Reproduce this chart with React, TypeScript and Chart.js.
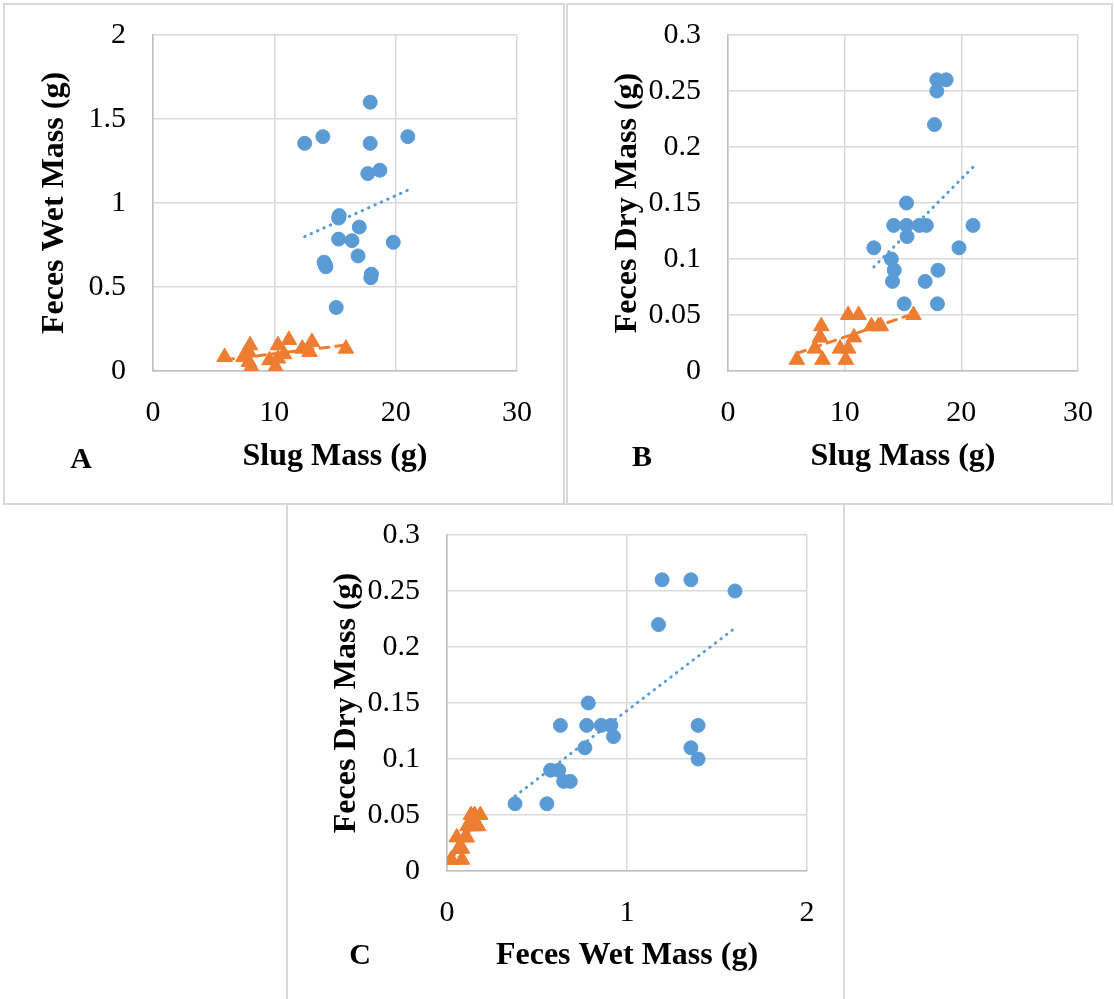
import React, { useEffect, useRef } from "react";
import { Chart, registerables } from "chart.js";

Chart.register(...registerables);

// ---- Data ----
// Blue circles (group 1): slug mass, feces wet mass, feces dry mass
const slugMassBlue = [17.9, 12.5, 14.0, 17.9, 21.0, 17.7, 18.7, 15.35, 15.3, 17.0, 15.3, 16.4, 19.8, 16.9, 14.1, 14.25, 18.0, 17.95, 15.1, 14.2];
const wetMassBlue = [1.6, 1.355, 1.395, 1.355, 1.395, 1.175, 1.195, 0.925, 0.91, 0.857, 0.785, 0.776, 0.766, 0.685, 0.648, 0.62, 0.576, 0.555, 0.378, 0.63];
const dryMassBlue = [0.25, 0.11, 0.10, 0.26, 0.13, 0.22, 0.26, 0.12, 0.13, 0.13, 0.15, 0.13, 0.11, 0.08, 0.08, 0.09, 0.09, 0.06, 0.06, 0.13];

// Orange triangles (group 2)
const slugMassOrange = [5.9, 7.45, 7.9, 8.0, 8.1, 7.9, 9.6, 10.1, 10.3, 10.8, 10.3, 11.2, 12.3, 12.9, 13.1, 15.9];
const wetMassOrange = [0.083, 0.083, 0.054, 0.153, 0.024, 0.11, 0.064, 0.024, 0.074, 0.1, 0.153, 0.185, 0.133, 0.113, 0.173, 0.133];
const dryMassOrange = [0.01, 0.02, 0.03, 0.04, 0.01, 0.03, 0.02, 0.01, 0.02, 0.03, 0.05, 0.05, 0.04, 0.04, 0.04, 0.05];

// Tick values
const slugTicks = [0, 10, 20, 30];
const wetTicksY = [0, 0.5, 1, 1.5, 2];
const dryTicks = [0, 0.05, 0.1, 0.15, 0.2, 0.25, 0.3];
const wetTicksX = [0, 1, 2];

// Labels
const panelLetters = ["A", "B", "C"];
const slugTitle = "Slug Mass (g)";
const wetTitle = "Feces Wet Mass (g)";
const dryTitle = "Feces Dry Mass (g)";

const BLUE = "#5b9bd5";
const ORANGE = "#ed7d31";
const GRID = "#d9d9d9";
const AXIS = "#bfbfbf";
const FONT = "'Liberation Serif', 'Times New Roman', serif";

function toPoints(xs: number[], ys: number[]) {
  return xs.map((x, i) => ({ x, y: ys[i] }));
}

// Least-squares trendline over the data's x-range (like Excel's linear trendline)
function trend(xs: number[], ys: number[]) {
  const n = xs.length;
  const mx = xs.reduce((a, b) => a + b, 0) / n;
  const my = ys.reduce((a, b) => a + b, 0) / n;
  let sxy = 0;
  let sxx = 0;
  for (let i = 0; i < n; i++) {
    sxy += (xs[i] - mx) * (ys[i] - my);
    sxx += (xs[i] - mx) * (xs[i] - mx);
  }
  const b = sxy / sxx;
  const a = my - b * mx;
  const x0 = Math.min(...xs);
  const x1 = Math.max(...xs);
  return [
    { x: x0, y: a + b * x0 },
    { x: x1, y: a + b * x1 },
  ];
}

type Spec = {
  letter: string;
  left: number;
  top: number;
  width: number;
  height: number;
  plot: { left: number; right: number; top: number; bottom: number };
  xTitle: string;
  yTitle: string;
  xTicks: number[];
  yTicks: number[];
  bx: number[];
  by: number[];
  ox: number[];
  oy: number[];
  yTitlePad: number;
  xTitlePad: number;
  letterPos: { x: number; y: number };
};

const specs: Spec[] = [
  {
    letter: panelLetters[0],
    left: 3, top: 3, width: 562, height: 502,
    plot: { left: 148, right: 512, top: 30, bottom: 366 },
    xTitle: slugTitle, yTitle: wetTitle,
    xTicks: slugTicks, yTicks: wetTicksY,
    bx: slugMassBlue, by: wetMassBlue, ox: slugMassOrange, oy: wetMassOrange,
    yTitlePad: 30.8, xTitlePad: 26.8,
    letterPos: { x: 81, y: 458 },
  },
  {
    letter: panelLetters[1],
    left: 566, top: 3, width: 547, height: 502,
    plot: { left: 160, right: 510, top: 30, bottom: 366 },
    xTitle: slugTitle, yTitle: dryTitle,
    xTicks: slugTicks, yTicks: dryTicks,
    bx: slugMassBlue, by: dryMassBlue, ox: slugMassOrange, oy: dryMassOrange,
    yTitlePad: 40.8, xTitlePad: 26.8,
    letterPos: { x: 642, y: 456 },
  },
  {
    letter: panelLetters[2],
    left: 286, top: 503, width: 559, height: 502,
    plot: { left: 159, right: 519, top: 30, bottom: 366 },
    xTitle: wetTitle, yTitle: dryTitle,
    xTicks: wetTicksX, yTicks: dryTicks,
    bx: wetMassBlue, by: dryMassBlue, ox: wetMassOrange, oy: dryMassOrange,
    yTitlePad: 39.8, xTitlePad: 27.8,
    letterPos: { x: 360, y: 954 },
  },
];

function Panel({ spec }: { spec: Spec }) {
  const ref = useRef<HTMLCanvasElement | null>(null);
  const cw = spec.width - 4;
  const ch = spec.height - 4;

  useEffect(() => {
    const canvas = ref.current;
    if (!canvas) return;
    const p = spec.plot;
    const tickFont = { family: FONT, size: 30 };
    const titleFont = { family: FONT, size: 32, weight: "bold" as const };
    const chart = new Chart(canvas, {
      type: "scatter",
      data: {
        datasets: [
          {
            data: trend(spec.bx, spec.by),
            showLine: true,
            borderColor: BLUE,
            borderWidth: 3,
            borderDash: [0.5, 6.5],
            borderCapStyle: "round",
            pointRadius: 0,
            fill: false,
          } as any,
          {
            data: trend(spec.ox, spec.oy),
            showLine: true,
            borderColor: ORANGE,
            borderWidth: 3,
            borderDash: [9, 7],
            borderCapStyle: "round",
            pointRadius: 0,
            fill: false,
          } as any,
          {
            data: toPoints(spec.bx, spec.by),
            pointStyle: "circle",
            pointRadius: 7,
            backgroundColor: BLUE,
            borderColor: BLUE,
            borderWidth: 1,
          },
          {
            data: toPoints(spec.ox, spec.oy),
            pointStyle: "triangle",
            pointRadius: 9,
            backgroundColor: ORANGE,
            borderColor: ORANGE,
            borderWidth: 1,
          },
        ],
      },
      options: {
        responsive: false,
        animation: false,
        devicePixelRatio: 1,
        layout: { padding: { left: 0, top: p.top, right: cw - p.right, bottom: 0 } },
        plugins: { legend: { display: false }, tooltip: { enabled: false } },
        scales: {
          x: {
            type: "linear",
            min: spec.xTicks[0],
            max: spec.xTicks[spec.xTicks.length - 1],
            afterBuildTicks: (s: any) => {
              s.ticks = spec.xTicks.map((v) => ({ value: v }));
            },
            afterFit: (s: any) => {
              s.height = ch - p.bottom;
              s.paddingLeft = 0;
              s.paddingRight = 0;
            },
            grid: { color: GRID, lineWidth: 1.5, drawTicks: false },
            border: { color: AXIS, width: 1.5 },
            ticks: { padding: 24, font: tickFont, color: "#000", callback: (v: any) => String(v) },
            title: {
              display: true,
              text: spec.xTitle,
              font: titleFont,
              color: "#000",
              padding: { top: 0, bottom: spec.xTitlePad },
            },
          },
          y: {
            type: "linear",
            min: spec.yTicks[0],
            max: spec.yTicks[spec.yTicks.length - 1],
            afterBuildTicks: (s: any) => {
              s.ticks = spec.yTicks.map((v) => ({ value: v }));
            },
            afterFit: (s: any) => {
              s.width = p.left;
              s.paddingTop = 0;
              s.paddingBottom = 0;
            },
            grid: { color: GRID, lineWidth: 1.5, drawTicks: false },
            border: { color: AXIS, width: 1.5 },
            ticks: { padding: 27, font: tickFont, color: "#000", callback: (v: any) => String(v) },
            title: {
              display: true,
              text: spec.yTitle,
              font: titleFont,
              color: "#000",
              padding: { top: spec.yTitlePad, bottom: 0 },
            },
          },
        },
      },
    });
    return () => chart.destroy();
  }, [spec]);

  return (
    <div
      style={{
        position: "absolute",
        left: spec.left,
        top: spec.top,
        width: spec.width,
        height: spec.height,
        boxSizing: "border-box",
        border: "2px solid #d9d9d9",
        background: "#fff",
      }}
    >
      <canvas ref={ref} width={cw} height={ch} style={{ display: "block", width: cw, height: ch }} />
    </div>
  );
}

export default function App() {
  return (
    <div
      style={{
        position: "absolute",
        left: 0,
        top: 0,
        width: 1114,
        height: 999,
        overflow: "hidden",
        background: "#fff",
      }}
    >
      {specs.map((s) => (
        <Panel key={s.letter} spec={s} />
      ))}
      {specs.map((s) => (
        <div
          key={"l" + s.letter}
          style={{
            position: "absolute",
            left: s.letterPos.x,
            top: s.letterPos.y,
            transform: "translate(-50%, -50%)",
            fontFamily: FONT,
            fontWeight: "bold",
            fontSize: 30,
            lineHeight: "30px",
            color: "#000",
          }}
        >
          {s.letter}
        </div>
      ))}
    </div>
  );
}
